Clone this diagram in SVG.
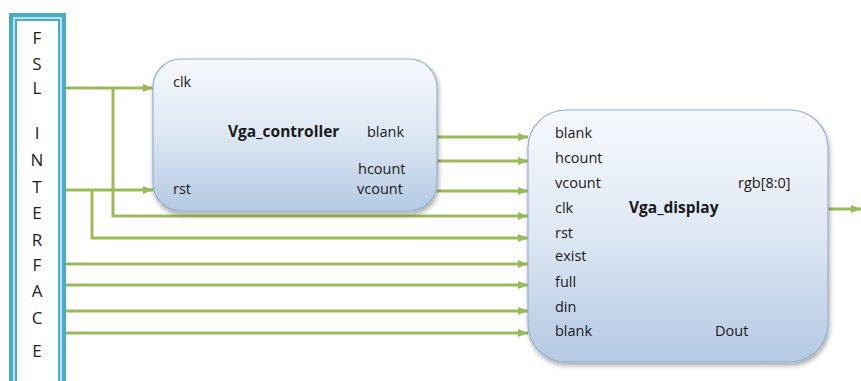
<svg xmlns="http://www.w3.org/2000/svg" width="861" height="381" viewBox="0 0 861 381">
<defs>
<linearGradient id="boxg" x1="0" y1="0" x2="0" y2="1">
<stop offset="0" stop-color="#f7f9fd"/>
<stop offset="0.5" stop-color="#dde7f3"/>
<stop offset="1" stop-color="#b4c9e3"/>
</linearGradient>
<filter id="sh" x="-10%" y="-10%" width="125%" height="125%">
<feGaussianBlur in="SourceAlpha" stdDeviation="2.5"/>
<feOffset dx="1" dy="3" result="b"/>
<feComponentTransfer><feFuncA type="linear" slope="0.35"/></feComponentTransfer>
<feMerge><feMergeNode/><feMergeNode in="SourceGraphic"/></feMerge>
</filter>
<marker id="arr" viewBox="0 0 10 8" refX="10" refY="4" markerWidth="10" markerHeight="8" markerUnits="userSpaceOnUse" orient="auto">
<path d="M0,0 L10,4 L0,8 Z" fill="#9bbb59"/>
</marker>
</defs>
<style>
.box{fill:url(#boxg);stroke:#94aece;stroke-width:1.2}
.t{font-family:"Open Sans","Liberation Sans",sans-serif;font-size:14.5px;fill:#1a1a1a}
.b{font-weight:bold;font-size:15.5px}
.f{font-family:"Open Sans","Liberation Sans",sans-serif;font-size:17px;fill:#222;text-anchor:middle}
.w{fill:none;stroke:#9bbb59;stroke-width:3}
</style>
<rect width="861" height="381" fill="#ffffff"/>
<g id="fsl">
<rect x="11" y="15" width="53" height="380" fill="#ffffff" stroke="#4bacc6" stroke-width="4"/>
<rect x="14" y="18" width="47" height="380" fill="none" stroke="#a8d8e6" stroke-width="1.5"/>
<rect x="16" y="20" width="43" height="380" fill="#ffffff" stroke="#4bacc6" stroke-width="2"/>
<text class="f" x="37" y="44">F</text>
<text class="f" x="37" y="70">S</text>
<text class="f" x="37" y="94">L</text>
<text class="f" x="37" y="139">I</text>
<text class="f" x="37" y="166">N</text>
<text class="f" x="37" y="193">T</text>
<text class="f" x="37" y="219">E</text>
<text class="f" x="37" y="246">R</text>
<text class="f" x="37" y="271">F</text>
<text class="f" x="37" y="297">A</text>
<text class="f" x="37" y="324">C</text>
<text class="f" x="37" y="357">E</text>
</g>
<g id="connectors">
<path class="w" d="M66,88 H153" marker-end="url(#arr)"/>
<path class="w" d="M66,190 H153" marker-end="url(#arr)"/>
<path class="w" d="M113,88 V216 H528" marker-end="url(#arr)"/>
<path class="w" d="M92,190 V238 H528" marker-end="url(#arr)"/>
<path class="w" d="M66,264 H528" marker-end="url(#arr)"/>
<path class="w" d="M66,285 H528" marker-end="url(#arr)"/>
<path class="w" d="M66,311 H528" marker-end="url(#arr)"/>
<path class="w" d="M66,333 H528" marker-end="url(#arr)"/>
<path class="w" d="M437,137 H528" marker-end="url(#arr)"/>
<path class="w" d="M437,161 H528" marker-end="url(#arr)"/>
<path class="w" d="M437,191 H528" marker-end="url(#arr)"/>
<path class="w" d="M828,209 H861" marker-end="url(#arr)"/>
</g>
<g id="vga_controller">
<rect class="box" x="153" y="59" width="284" height="152" rx="28" ry="28" filter="url(#sh)"/>
<text class="t" x="173" y="87">clk</text>
<text class="t b" x="228" y="137">Vga_controller</text>
<text class="t" x="367" y="137">blank</text>
<text class="t" x="358" y="174">hcount</text>
<text class="t" x="173" y="194">rst</text>
<text class="t" x="357" y="194">vcount</text>
</g>
<g id="vga_display">
<rect class="box" x="528" y="110" width="300" height="252" rx="38" ry="38" filter="url(#sh)"/>
<text class="t" x="555" y="138">blank</text>
<text class="t" x="555" y="163">hcount</text>
<text class="t" x="555" y="188">vcount</text>
<text class="t" x="738" y="188">rgb[8:0]</text>
<text class="t" x="555" y="213">clk</text>
<text class="t b" x="629" y="213">Vga_display</text>
<text class="t" x="555" y="238">rst</text>
<text class="t" x="555" y="261">exist</text>
<text class="t" x="555" y="287">full</text>
<text class="t" x="555" y="312">din</text>
<text class="t" x="555" y="336">blank</text>
<text class="t" x="715" y="336">Dout</text>
</g>
</svg>
